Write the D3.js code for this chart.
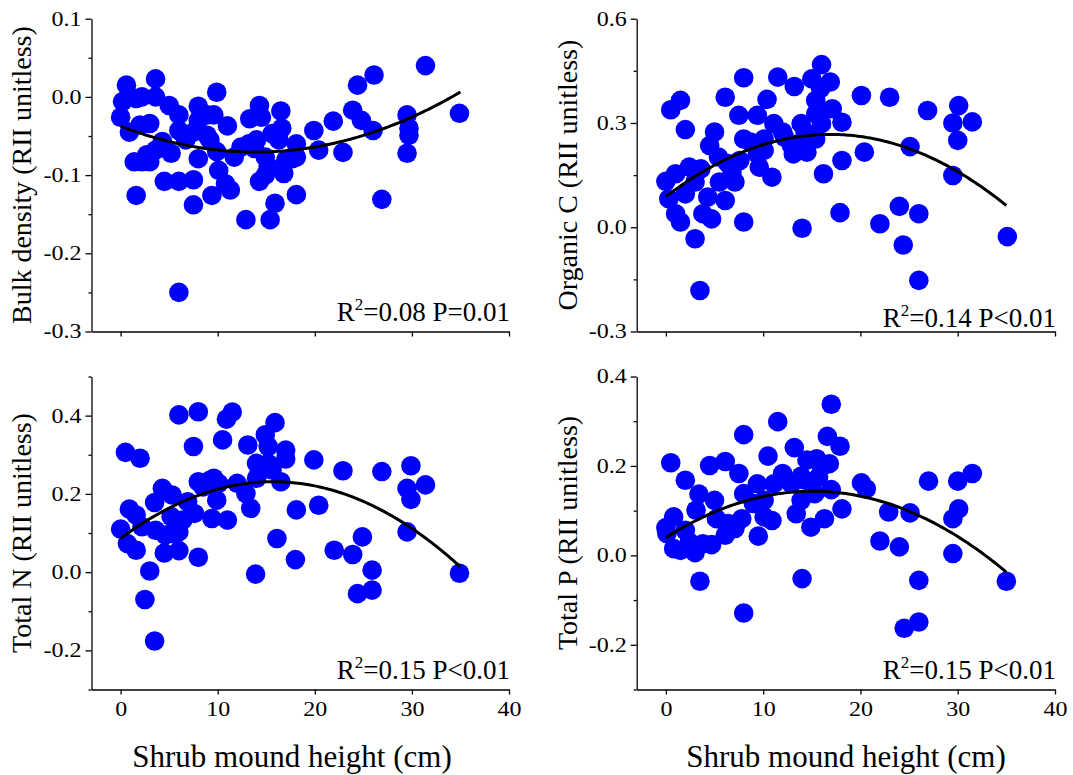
<!DOCTYPE html>
<html>
<head>
<meta charset="utf-8">
<script src="https://cdn.jsdelivr.net/npm/d3@7/dist/d3.min.js"></script>
<style>
  body { margin: 0; background: #fff; }
  text { font-family: "Liberation Serif", "Times New Roman", serif; fill: #000; }
</style>
</head>
<body>
<script>

// shrub mound height (cm) and RII values for each soil property
var bulkX = [31.4, 26.1, 24.4, 34.9, 29.5, 29.7, 29.7, 29.5, 26.9, 23.9, 24.8, 26.0, 21.9, 22.9, 19.9, 20.4,
             18.1, 18.1, 18.1, 16.8, 17.0, 16.5, 16.6, 15.6, 14.3, 14.5, 13.3, 14.0, 13.2, 14.9, 15.2, 14.9,
             14.3, 15.9, 15.4, 12.9, 11.3, 10.8, 11.7, 11.0, 9.9, 9.6, 9.2, 8.9, 9.9, 10.1, 9.4, 8.0,
             8.0, 7.5, 8.0, 7.5, 7.5, 6.0, 6.0, 4.5, 5.0, 6.0, 6.0, 5.2, 4.3, 3.6, 3.6, 3.0,
             2.0, 2.2, 1.6, 0.6, 0.2, 0.0, 0.9, 1.4, 2.2, 2.7, 3.0, 1.6, 3.6, 6.7, 8.9, 12.4,
             17.7, 16.3, 13.8];
var bulkY = [0.040, 0.028, 0.015, -0.021, -0.023, -0.040, -0.049, -0.072, -0.131, -0.017, -0.030, -0.043, -0.031, -0.071, -0.043, -0.068,
             -0.060, -0.077, -0.125, -0.098, -0.081, -0.018, -0.040, -0.047, -0.011, -0.026, -0.028, -0.055, -0.060, -0.077, -0.089, -0.100,
             -0.108, -0.136, -0.157, -0.157, -0.119, -0.111, -0.077, -0.037, 0.006, -0.023, -0.055, -0.049, -0.070, -0.094, -0.126, -0.012,
             -0.030, -0.045, -0.079, -0.106, -0.138, -0.108, -0.250, -0.108, -0.011, -0.023, -0.043, -0.072, -0.057, 0.023, 0.000, -0.034,
             -0.036, 0.000, -0.002, 0.015, -0.006, -0.026, -0.045, -0.083, -0.083, -0.074, -0.083, -0.126, -0.068, -0.055, -0.023, -0.064,
             -0.079, -0.055, -0.066];

var ocX = [0.0, 0.5, 1.5, 2.0, 1.0, 0.3, 1.0, 1.5, 2.0, 2.4, 3.0, 3.6, 3.0, 3.5, 3.8, 4.7,
           4.5, 5.0, 4.3, 5.4, 6.1, 5.5, 6.1, 6.8, 7.1, 6.4, 7.5, 8.0, 8.0, 8.0, 7.6, 9.4,
           9.6, 9.4, 10.1, 10.1, 10.4, 10.9, 11.1, 11.5, 12.0, 12.9, 13.1, 13.2, 13.6, 13.9, 14.0, 14.5,
           14.6, 15.0, 15.4, 15.4, 15.4, 16.0, 15.9, 16.2, 16.9, 17.1, 16.0, 18.1, 18.1, 17.9, 20.1, 20.4,
           22.0, 23.0, 24.0, 24.4, 25.1, 26.0, 26.0, 26.9, 29.5, 30.1, 30.0, 29.5, 31.5, 35.1, 8.7, 12.2,
           14.3];
var ocY = [0.132, 0.338, 0.365, 0.281, 0.154, 0.082, 0.039, 0.015, 0.096, 0.173, 0.130, 0.168, -0.033, -0.182, 0.039, 0.024,
           0.235, 0.274, 0.087, 0.202, 0.374, 0.130, 0.077, 0.159, 0.130, 0.183, 0.322, 0.430, 0.254, 0.015, 0.192, 0.322,
           0.173, 0.211, 0.254, 0.221, 0.368, 0.144, 0.298, 0.432, 0.274, 0.235, 0.211, 0.405, 0.240, 0.298, -0.003, 0.216,
           0.259, 0.427, 0.365, 0.326, 0.254, 0.468, 0.399, 0.154, 0.418, 0.341, 0.298, 0.302, 0.192, 0.042, 0.379, 0.216,
           0.010, 0.374, 0.060, -0.051, 0.232, 0.039, -0.153, 0.336, 0.300, 0.350, 0.250, 0.149, 0.303, -0.027, 0.245, 0.259,
           0.274];

var tnX = [0.0, 0.5, 2.0, 0.9, 0.7, 1.6, 1.6, 2.2, 2.5, 3.0, 3.5, 3.5, 3.6, 4.3, 4.5, 4.6,
           5.2, 5.3, 6.0, 6.0, 6.0, 6.4, 6.9, 7.5, 7.6, 8.0, 8.0, 8.0, 8.5, 9.4, 9.6, 9.9,
           10.1, 10.5, 10.9, 11.0, 11.5, 12.0, 13.1, 12.9, 13.4, 14.0, 14.0, 13.9, 14.9, 15.2, 15.6, 15.9,
           16.1, 16.5, 17.0, 17.0, 15.2, 18.1, 18.0, 19.9, 20.4, 22.0, 22.9, 23.9, 24.4, 24.9, 25.9, 25.9,
           26.9, 29.5, 29.9, 29.9, 29.5, 31.4, 34.9, 9.2, 14.5, 5.3];
var tnY = [0.110, 0.306, 0.291, 0.161, 0.073, 0.056, 0.146, 0.116, -0.070, 0.003, -0.176, 0.178, 0.107, 0.214, 0.049, 0.095,
           0.142, 0.197, 0.402, 0.055, 0.103, 0.133, 0.180, 0.321, 0.150, 0.410, 0.231, 0.038, 0.218, 0.137, 0.240, 0.184,
           0.227, 0.338, 0.391, 0.133, 0.409, 0.227, 0.325, 0.201, 0.163, 0.278, 0.240, -0.005, 0.351, 0.321, 0.261, 0.382,
           0.086, 0.231, 0.312, 0.289, 0.278, 0.159, 0.032, 0.287, 0.171, 0.056, 0.259, 0.045, -0.055, 0.090, 0.005, -0.046,
           0.257, 0.214, 0.272, 0.186, 0.103, 0.223, -0.003, 0.235, 0.261, 0.099];

var tpX = [0.0, 0.5, 0.1, 0.8, 0.8, 1.5, 2.0, 2.0, 2.4, 3.0, 3.1, 3.4, 3.5, 3.8, 4.5, 4.7,
           5.0, 5.2, 6.1, 6.1, 6.4, 7.1, 7.5, 7.8, 8.0, 8.0, 8.0, 9.0, 9.4, 9.5, 10.1, 10.1,
           10.5, 10.9, 11.1, 11.5, 12.0, 12.9, 13.2, 13.4, 13.9, 14.0, 14.3, 14.5, 14.9, 15.3, 15.5, 16.0,
           16.3, 16.6, 16.8, 17.0, 17.0, 17.9, 18.1, 20.1, 20.6, 22.0, 22.9, 24.0, 24.5, 25.1, 26.0, 26.0,
           27.0, 29.5, 29.5, 30.1, 30.0, 31.5, 35.0, 13.9, 15.7];
var tpY = [0.062, 0.207, 0.049, 0.086, 0.015, 0.011, 0.168, 0.056, 0.030, 0.006, 0.101, 0.137, -0.058, 0.026, 0.201, 0.024,
           0.123, 0.082, 0.210, 0.045, 0.071, 0.060, 0.183, 0.082, 0.270, 0.138, -0.129, 0.116, 0.160, 0.043, 0.123, 0.086,
           0.222, 0.078, 0.160, 0.299, 0.183, 0.160, 0.241, 0.093, 0.123, -0.052, 0.168, 0.213, 0.063, 0.138, 0.216, 0.198,
           0.082, 0.266, 0.205, 0.338, 0.147, 0.244, 0.104, 0.162, 0.149, 0.032, 0.097, 0.019, -0.163, 0.095, -0.056, -0.149,
           0.166, 0.082, 0.004, 0.104, 0.166, 0.183, -0.058, 0.177, 0.175];

// quadratic fits, y = a + b*x + c*x^2, drawn from x = 0 to 35
var bulkFit = [-0.0375, -0.00477, 0.000172];
var ocFit = [0.0885, 0.02113, -0.000625];
var tnFit = [0.0862, 0.01843, -0.000586];
var tpFit = [0.0396, 0.01376, -0.000456];

// labels
var yTitles = ['Bulk density (RII unitless)', 'Organic C (RII unitless)', 'Total N (RII unitless)', 'Total P (RII unitless)'];
var xTitle = 'Shrub mound height (cm)';
var statR2 = ['0.08', '0.14', '0.15', '0.15'];
var statP = ['P=0.01', 'P<0.01', 'P<0.01', 'P<0.01'];

// axis domains and ticks
var xDomain = [-3, 40];
var xTicks = [0, 10, 20, 30, 40];
var yDomains = [[-0.3, 0.1], [-0.3, 0.6], [-0.3, 0.5], [-0.3, 0.4]];
var yMajor = [[-0.3, -0.2, -0.1, 0, 0.1], [-0.3, 0, 0.3, 0.6], [-0.2, 0, 0.2, 0.4], [-0.2, 0, 0.2, 0.4]];
var yMinor = [[-0.25, -0.15, -0.05, 0.05], [-0.15, 0.15, 0.45], [-0.3, -0.1, 0.1, 0.3, 0.5], [-0.3, -0.1, 0.1, 0.3]];

var pointColor = '#0000ff';

var W = 1073, H = 775;

// pixel boxes of the four panels: [left, right, top, bottom]
var boxes = [[91.5, 509, 18.7, 331.5], [636.7, 1055, 18.7, 331.5],
             [91.5, 509, 376.5, 689.5], [636.7, 1055, 376.5, 689.5]];

var panels = [
  {xs: bulkX, ys: bulkY, fit: bulkFit},
  {xs: ocX, ys: ocY, fit: ocFit},
  {xs: tnX, ys: tnY, fit: tnFit},
  {xs: tpX, ys: tpY, fit: tpFit}
];

var svg = d3.select('body').append('svg')
            .attr('width', W)
            .attr('height', H);

var fmt = function(d) { return d.toFixed(1); };

panels.forEach(function(p, i) {
  var b = boxes[i];
  var bottomRow = i >= 2;
  var xScale = d3.scaleLinear().domain(xDomain).range([b[0], b[1]]);
  var yScale = d3.scaleLinear().domain(yDomains[i]).range([b[3], b[2]]);

  var g = svg.append('g');

  // points
  var pts = p.xs.map(function(x, j) { return [x, p.ys[j]]; });
  g.append('g').selectAll('circle')
   .data(pts)
   .enter()
   .append('circle')
   .attr('cx', function(d) { return xScale(d[0]); })
   .attr('cy', function(d) { return yScale(d[1]); })
   .attr('r', 9.8)
   .attr('fill', pointColor);

  // fitted curve
  var curve = d3.range(0, 35.01, 0.25).map(function(x) {
    return [x, p.fit[0] + p.fit[1] * x + p.fit[2] * x * x];
  });
  g.append('path')
   .datum(curve)
   .attr('d', d3.line()
                .x(function(d) { return xScale(d[0]); })
                .y(function(d) { return yScale(d[1]); }))
   .attr('fill', 'none')
   .attr('stroke', '#000')
   .attr('stroke-width', 3);

  // x axis
  var xAxis = d3.axisBottom(xScale)
                .tickValues(xTicks)
                .tickSize(5)
                .tickSizeOuter(0)
                .tickPadding(7)
                .tickFormat(bottomRow ? d3.format('d') : '');
  g.append('g')
   .attr('transform', 'translate(0,' + b[3] + ')')
   .call(xAxis);

  // y axis, major then minor ticks
  var yAxis = d3.axisLeft(yScale)
                .tickValues(yMajor[i])
                .tickSize(6)
                .tickSizeOuter(0)
                .tickPadding(4)
                .tickFormat(fmt);
  g.append('g')
   .attr('transform', 'translate(' + b[0] + ',0)')
   .call(yAxis);
  g.append('g')
   .attr('transform', 'translate(' + b[0] + ',0)')
   .call(d3.axisLeft(yScale).tickValues(yMinor[i]).tickSize(3).tickSizeOuter(0).tickFormat(''))
   .select('.domain').remove();

  g.selectAll('.domain, .tick line')
   .attr('stroke', '#000')
   .attr('stroke-width', 1.3);
  // tick labels in the figure are set a little wide, so stretch them
  g.selectAll('.tick text')
   .attr('font-family', '"Liberation Serif", "Times New Roman", serif')
   .attr('font-size', 20)
   .attr('fill', '#000')
   .each(function() {
     var len = this.getComputedTextLength();
     if (len > 0) {
       d3.select(this)
         .attr('textLength', len * 1.2)
         .attr('lengthAdjust', 'spacingAndGlyphs');
     }
   });

  // y title
  var ty = (b[2] + b[3]) / 2;
  var tx = i % 2 === 0 ? 30.5 : 577;
  g.append('text')
   .attr('text-anchor', 'middle')
   .attr('font-size', 28)
   .attr('transform', 'translate(' + tx + ',' + ty + ')rotate(-90)')
   .text(yTitles[i]);

  // R2 and P label
  var st = g.append('text')
            .attr('text-anchor', 'end')
            .attr('font-size', 27)
            .attr('x', b[1] + 1)
            .attr('y', b[3] - (i === 1 ? 5 : 11));
  st.append('tspan').text('R');
  st.append('tspan').attr('font-size', 17).attr('dy', -11).text('2');
  st.append('tspan').attr('dy', 11).text('=' + statR2[i] + ' ' + statP[i]);

  // x title on the bottom row
  if (bottomRow) {
    g.append('text')
     .attr('text-anchor', 'middle')
     .attr('font-size', 31)
     .attr('x', i === 2 ? 292 : 846)
     .attr('y', 767)
     .text(xTitle);
  }
});

</script>
</body>
</html>
